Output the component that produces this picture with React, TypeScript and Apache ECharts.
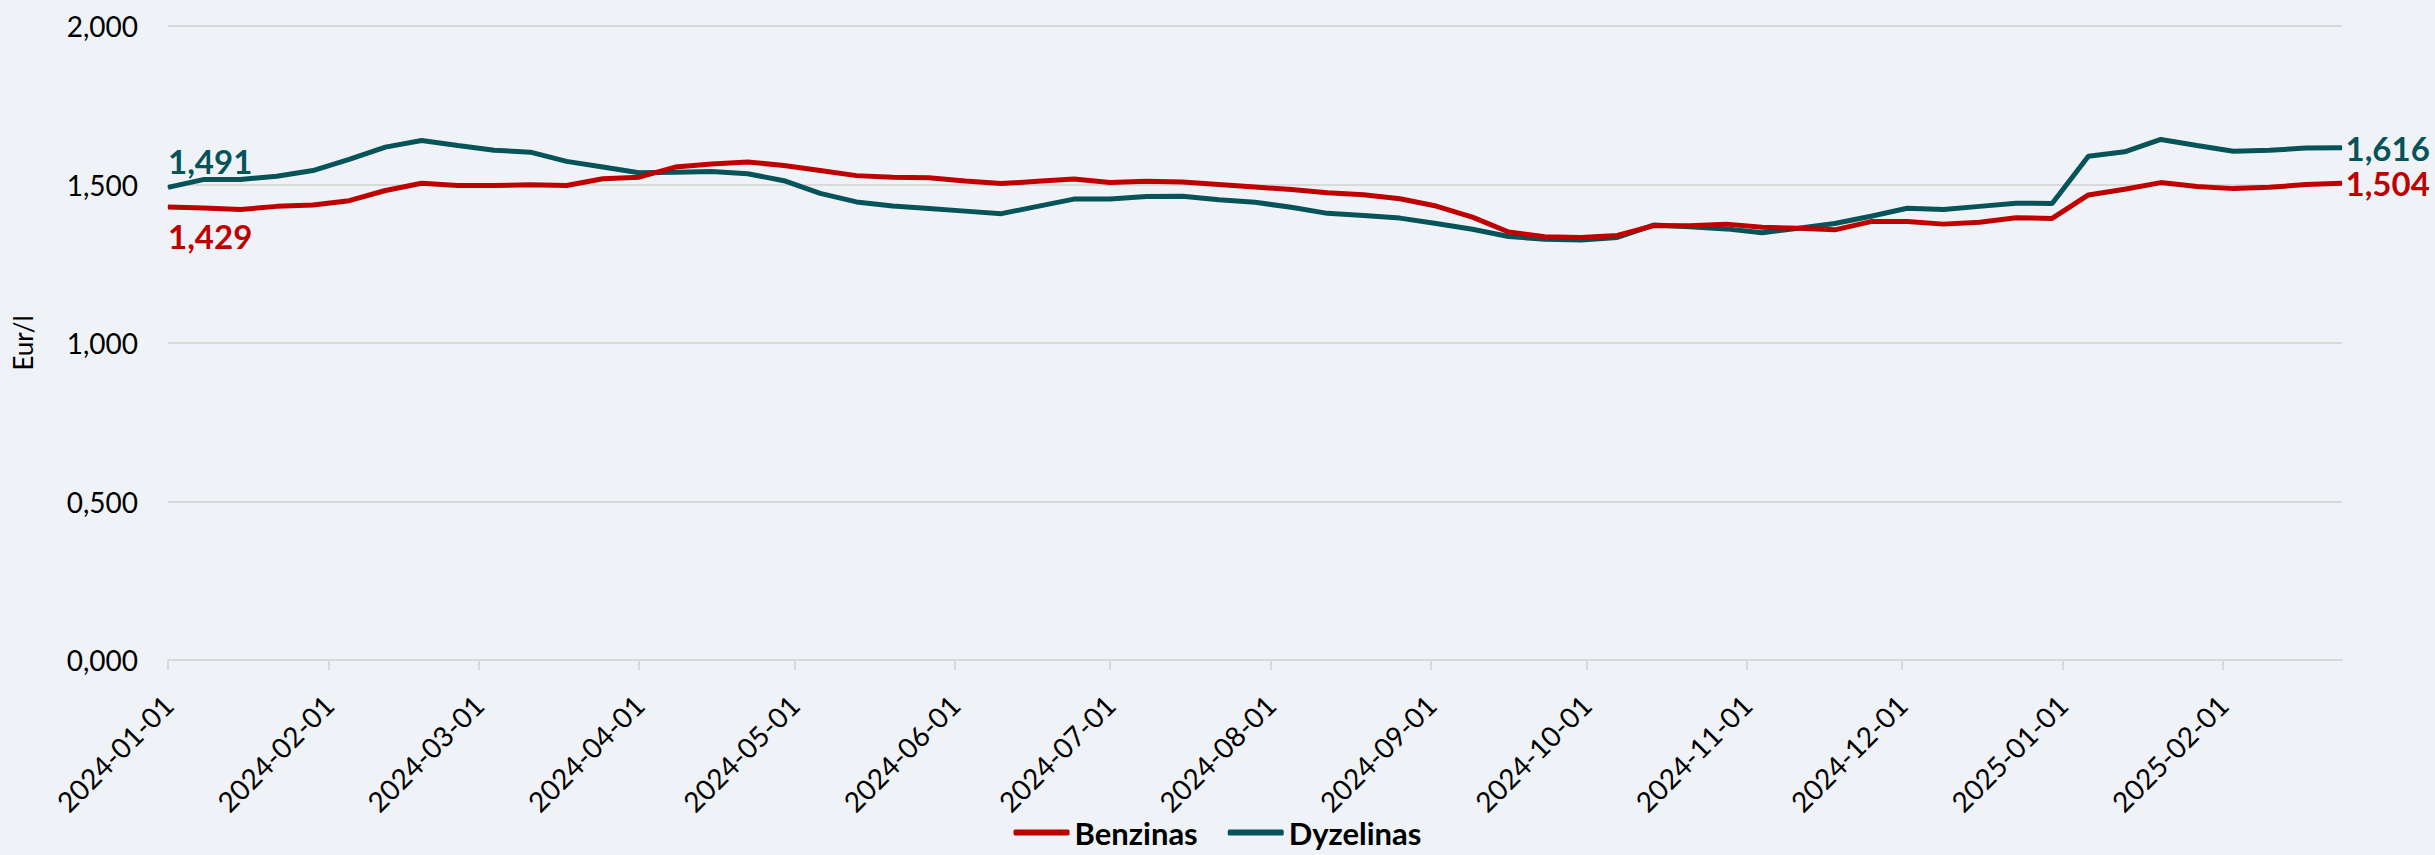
import React, { useEffect, useRef } from 'react';
import * as echarts from 'echarts';

const weeks = [
  '2024-01-01', '2024-01-08', '2024-01-15', '2024-01-22', '2024-01-29',
  '2024-02-05', '2024-02-12', '2024-02-19', '2024-02-26', '2024-03-04',
  '2024-03-11', '2024-03-18', '2024-03-25', '2024-04-01', '2024-04-08',
  '2024-04-15', '2024-04-22', '2024-04-29', '2024-05-06', '2024-05-13',
  '2024-05-20', '2024-05-27', '2024-06-03', '2024-06-10', '2024-06-17',
  '2024-06-24', '2024-07-01', '2024-07-08', '2024-07-15', '2024-07-22',
  '2024-07-29', '2024-08-05', '2024-08-12', '2024-08-19', '2024-08-26',
  '2024-09-02', '2024-09-09', '2024-09-16', '2024-09-23', '2024-09-30',
  '2024-10-07', '2024-10-14', '2024-10-21', '2024-10-28', '2024-11-04',
  '2024-11-11', '2024-11-18', '2024-11-25', '2024-12-02', '2024-12-09',
  '2024-12-16', '2024-12-23', '2024-12-30', '2025-01-06', '2025-01-13',
  '2025-01-20', '2025-01-27', '2025-02-03', '2025-02-10', '2025-02-17',
  '2025-02-24',
];

const benzinas = [
  1.429, 1.426, 1.421, 1.431, 1.435, 1.449, 1.481, 1.504, 1.497, 1.497,
  1.499, 1.497, 1.518, 1.523, 1.555, 1.565, 1.571, 1.560, 1.544, 1.528,
  1.523, 1.521, 1.511, 1.503, 1.510, 1.517, 1.506, 1.510, 1.508, 1.500,
  1.492, 1.484, 1.474, 1.468, 1.455, 1.432, 1.397, 1.350, 1.335, 1.333,
  1.339, 1.370, 1.370, 1.375, 1.365, 1.362, 1.357, 1.383, 1.383, 1.375,
  1.381, 1.395, 1.393, 1.467, 1.485, 1.506, 1.494, 1.487, 1.491, 1.500,
  1.504,
];

const dyzelinas = [
  1.491, 1.516, 1.516, 1.526, 1.544, 1.579, 1.618, 1.639, 1.623, 1.608,
  1.602, 1.573, 1.555, 1.537, 1.539, 1.541, 1.534, 1.512, 1.472, 1.445,
  1.432, 1.424, 1.416, 1.408, 1.431, 1.454, 1.454, 1.462, 1.463, 1.452,
  1.444, 1.428, 1.409, 1.402, 1.394, 1.377, 1.359, 1.336, 1.327, 1.325,
  1.333, 1.372, 1.367, 1.360, 1.348, 1.362, 1.377, 1.400, 1.425, 1.421,
  1.431, 1.441, 1.440, 1.589, 1.603, 1.642, 1.623, 1.605, 1.608, 1.615,
  1.616,
];

const monthTicks = [
  '2024-01-01', '2024-02-01', '2024-03-01', '2024-04-01', '2024-05-01',
  '2024-06-01', '2024-07-01', '2024-08-01', '2024-09-01', '2024-10-01',
  '2024-11-01', '2024-12-01', '2025-01-01', '2025-02-01',
];

const seriesNames = ['Benzinas', 'Dyzelinas'];
const yAxisName = 'Eur/l';

const BG = '#EFF3F7';
const RED = '#C00000';
const TEAL = '#07535A';
const FONT = 'Lato, "Open Sans", sans-serif';

const toTs = (s: string) => {
  const [y, m, d] = s.split('-').map(Number);
  return new Date(y, m - 1, d).getTime();
};
const pad = (n: number) => (n < 10 ? '0' + n : '' + n);
const fmtDate = (v: number) => {
  const d = new Date(v);
  return d.getFullYear() + '-' + pad(d.getMonth() + 1) + '-' + pad(d.getDate());
};
const fmtNum = (v: number) => v.toFixed(3).replace('.', ',');

function buildData(vals: number[], color: string, firstLabel: any) {
  const last = vals.length - 1;
  return vals.map((v, i) => {
    const item: any = { value: [toTs(weeks[i]), v] };
    if (i === 0) {
      item.label = {
        show: true,
        color,
        fontFamily: FONT,
        fontWeight: 'bold',
        fontSize: 33,
        formatter: () => fmtNum(v),
        ...firstLabel,
      };
    } else if (i === last) {
      item.label = {
        show: true,
        color,
        fontFamily: FONT,
        fontWeight: 'bold',
        fontSize: 33,
        position: 'right',
        distance: 3,
        formatter: () => fmtNum(v),
      };
    }
    return item;
  });
}

export default function App() {
  const ref = useRef<HTMLDivElement>(null);
  useEffect(() => {
    document.body.style.margin = '0';
    document.body.style.background = BG;
    const chart = echarts.init(ref.current!, null, { renderer: 'svg' });
    const tickVals = monthTicks.map(toTs);
    chart.setOption({
      animation: false,
      backgroundColor: BG,
      textStyle: { fontFamily: FONT },
      grid: { left: 168, right: 93, top: 26, bottom: 195, containLabel: false },
      legend: {
        data: seriesNames,
        bottom: 2,
        left: 'center',
        icon: 'roundRect',
        itemWidth: 56,
        itemHeight: 6,
        itemGap: 30,
        textStyle: { fontFamily: FONT, fontWeight: 'bold', fontSize: 31, color: '#000' },
      },
      xAxis: {
        type: 'value',
        min: toTs(weeks[0]),
        max: toTs(weeks[weeks.length - 1]),
        axisLine: { show: true, lineStyle: { color: '#D9D9D9', width: 2 } },
        axisTick: {
          show: true,
          length: 10,
          customValues: tickVals,
          lineStyle: { color: '#D9D9D9', width: 2 },
        },
        axisLabel: {
          customValues: tickVals,
          rotate: 45,
          margin: 40,
          fontFamily: FONT,
          fontSize: 28,
          color: '#000',
          formatter: (v: number) => fmtDate(v),
        },
        splitLine: { show: false },
      },
      yAxis: {
        type: 'value',
        min: 0,
        max: 2,
        interval: 0.5,
        name: yAxisName,
        nameLocation: 'middle',
        nameRotate: 90,
        nameGap: 132,
        nameTextStyle: { fontFamily: FONT, fontSize: 26, color: '#000' },
        axisLine: { show: false },
        axisTick: { show: false },
        axisLabel: {
          margin: 30,
          fontFamily: FONT,
          fontSize: 28,
          color: '#000',
          formatter: (v: number) => fmtNum(v),
        },
        splitLine: { lineStyle: { color: '#D9D9D9', width: 2 } },
      },
      series: [
        {
          name: seriesNames[0],
          type: 'line',
          symbol: 'circle',
          symbolSize: 1,
          showSymbol: true,
          color: RED,
          itemStyle: { color: RED },
          lineStyle: { color: RED, width: 5 },
          data: buildData(benzinas, RED, { position: 'bottom', align: 'left', distance: 12 }),
          z: 3,
        },
        {
          name: seriesNames[1],
          type: 'line',
          symbol: 'circle',
          symbolSize: 1,
          showSymbol: true,
          color: TEAL,
          itemStyle: { color: TEAL },
          lineStyle: { color: TEAL, width: 5 },
          data: buildData(dyzelinas, TEAL, { position: 'top', align: 'left', distance: 9 }),
          z: 2,
        },
      ],
    });
    return () => chart.dispose();
  }, []);
  return <div ref={ref} style={{ width: 2435, height: 855 }} />;
}
